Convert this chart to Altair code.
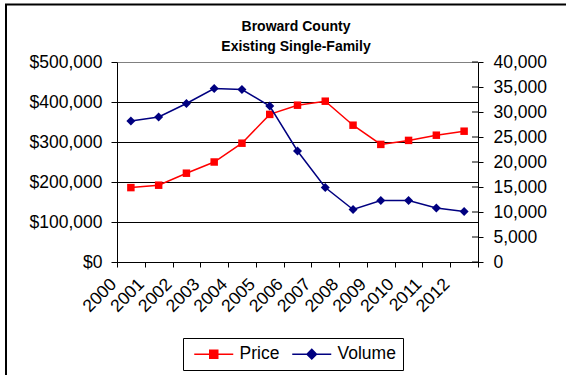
import altair as alt
import pandas as pd

# Broward County existing single-family homes: median price and sales volume
years = ["2000", "2001", "2002", "2003", "2004", "2005", "2006",
         "2007", "2008", "2009", "2010", "2011", "2012"]
price = [186000, 192000, 222000, 250000, 297000, 369000, 392000,
         402000, 342000, 294000, 304000, 317000, 327000]
volume = [28200, 29000, 31700, 34700, 34500, 31200, 22200,
          14900, 10500, 12300, 12300, 10800, 10100]

price_ticks = [0, 100000, 200000, 300000, 400000, 500000]
volume_ticks = [0, 5000, 10000, 15000, 20000, 25000, 30000, 35000, 40000]

title_lines = ["Broward County", "Existing Single-Family"]
series = ["Price", "Volume"]
series_colors = ["#FF0000", "#000080"]
# legend glyphs: a short line with the series marker in the middle
legend_glyphs = [
    "M-3.9,0H3.9M-0.8,-0.8H0.8V0.8H-0.8Z",
    "M-3.9,0H3.9M0,-0.95L0.95,0L0,0.95L-0.95,0Z",
]

FONT = "Liberation Sans"
LABEL_SIZE = 17.5
RED, NAVY = series_colors
PLOT_W, PLOT_H = 361, 200

df = pd.DataFrame({"year": years, "price": price, "volume": volume})
legend_df = pd.DataFrame({"series": series})

x_enc = alt.X(
    "year:O",
    scale=alt.Scale(type="band", paddingInner=0, paddingOuter=0),
    axis=alt.Axis(
        title=None, labelAngle=-45, labelAlign="right", labelBaseline="top",
        labelOffset=-24, labelPadding=8, tickBand="extent", tickSize=5,
        labelFontSize=LABEL_SIZE, labelFont=FONT, labelColor="black",
        domainColor="black", tickColor="black", grid=False,
    ),
)

price_y = alt.Y(
    "price:Q",
    scale=alt.Scale(domain=[0, 500000]),
    axis=alt.Axis(
        title=None, orient="left", values=price_ticks,
        format="$,.0f", labelFontSize=LABEL_SIZE, labelFont=FONT, labelColor="black",
        labelPadding=9, tickSize=6, domainColor="black", tickColor="black",
        grid=True, gridWidth=1,
        gridColor={"condition": {"test": "datum.value == 500000", "value": "#808080"},
                   "value": "black"},
    ),
)

volume_y = alt.Y(
    "volume:Q",
    scale=alt.Scale(domain=[0, 40000]),
    axis=alt.Axis(
        title=None, orient="right", values=volume_ticks,
        format=",.0f", labelFontSize=LABEL_SIZE, labelFont=FONT, labelColor="black",
        labelPadding=10, tickSize=5, domainColor="black", tickColor="black",
        grid=False,
    ),
)

price_base = alt.Chart(df).encode(x=x_enc, y=price_y)
price_line = price_base.mark_line(color=RED, strokeWidth=1.5)
price_pts = price_base.mark_point(shape="square", filled=True, color=RED,
                                  size=56, opacity=1)

volume_base = alt.Chart(df).encode(x=x_enc, y=volume_y)
volume_line = volume_base.mark_line(color=NAVY, strokeWidth=1.5)
volume_pts = volume_base.mark_point(shape="diamond", filled=True, color=NAVY,
                                    size=81, opacity=1)

# inner half of the cross ticks on the right-hand axis
volume_inner_ticks = (
    alt.Chart(pd.DataFrame({"volume": volume_ticks}))
    .mark_rule(color="black", strokeWidth=1)
    .encode(y=volume_y, x=alt.value(PLOT_W - 6), x2=alt.value(PLOT_W))
)

legend_def = alt.Legend(
    title=None, orient="none", legendX=66, legendY=276, direction="horizontal",
    strokeColor="black", fillColor="white", padding=7, gridAlign="each",
    symbolOffset=15, labelOffset=17, columnPadding=8,
    labelFontSize=LABEL_SIZE, labelFont=FONT, labelColor="black",
    symbolSize=100, symbolStrokeWidth=1.5,
)
legend_layer = (
    alt.Chart(legend_df)
    .transform_filter("false")
    .mark_point(filled=True, opacity=1, strokeWidth=1.5, size=100)
    .encode(
        fill=alt.Fill("series:N", scale=alt.Scale(domain=series, range=series_colors),
                      legend=legend_def),
        stroke=alt.Stroke("series:N", scale=alt.Scale(domain=series, range=series_colors),
                          legend=legend_def),
        shape=alt.Shape("series:N", scale=alt.Scale(domain=series, range=legend_glyphs),
                        legend=legend_def),
    )
)

# outer chart frame
frame = (
    alt.Chart(pd.DataFrame({"frame": [0]}))
    .mark_rect(fillOpacity=0, stroke="black", strokeWidth=2)
    .encode(x=alt.value(-111), x2=alt.value(500), y=alt.value(-57.5), y2=alt.value(360))
)

# two-line bold heading above the plot area
title_df = pd.DataFrame({"line": title_lines})
title_style = dict(font=FONT, fontSize=14, fontWeight="bold", color="black",
                   align="center", baseline="alphabetic")
title_top = (
    alt.Chart(title_df).transform_filter(alt.datum.line == title_lines[0])
    .mark_text(**title_style)
    .encode(text="line:N", x=alt.value(179), y=alt.value(-31))
)
title_bottom = (
    alt.Chart(title_df).transform_filter(alt.datum.line == title_lines[1])
    .mark_text(**title_style)
    .encode(text="line:N", x=alt.value(179), y=alt.value(-11.5))
)

chart = (
    alt.layer(
        frame,
        title_top,
        title_bottom,
        alt.layer(price_line, price_pts, legend_layer),
        alt.layer(volume_inner_ticks, volume_line, volume_pts),
    )
    .resolve_scale(y="independent")
    .properties(
        width=PLOT_W, height=PLOT_H,
        autosize=alt.AutoSizeParams(type="none"),
        padding={"left": 117, "top": 62, "right": 88, "bottom": 113},
        background="white",
    )
    .configure_view(stroke=None)
)

chart.save("out.html", embed_options={"renderer": "svg", "actions": False})
